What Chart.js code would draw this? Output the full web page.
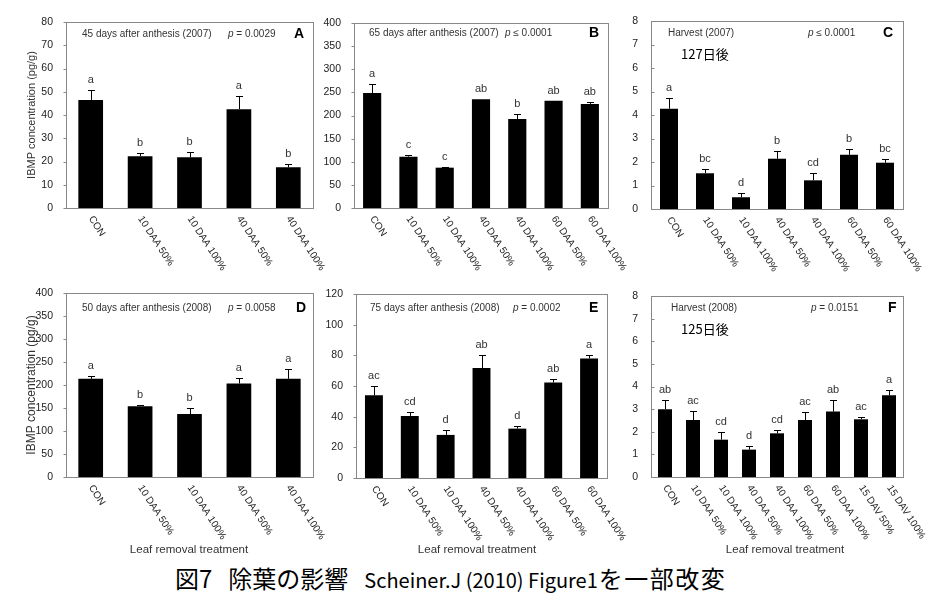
<!DOCTYPE html>
<html><head><meta charset="utf-8">
<script src="https://cdn.jsdelivr.net/npm/chart.js@4.4.1/dist/chart.umd.min.js"></script>
<style>
html,body{margin:0;padding:0;background:#fff;}
#wrap{position:relative;width:944px;height:606px;overflow:hidden;background:#fff;}
canvas{position:absolute;}
.xt{position:absolute;font:11.5px "Liberation Sans",Arial,sans-serif;color:#333;transform:translateX(-50%);white-space:nowrap;line-height:14px;}
.jp{position:absolute;font:13px "Noto Sans CJK JP",sans-serif;color:#000;white-space:nowrap;line-height:16px;}
#cap{position:absolute;left:175px;top:563px;font:24px "Noto Sans CJK JP",sans-serif;color:#000;white-space:nowrap;line-height:30px;}
#cap span{display:inline-block;vertical-align:baseline;}
#cap .lat{font-size:20px;margin-left:16px;}
#cap .g{margin-left:16px;}
#cap .t{letter-spacing:1.5px;margin-left:1px;}
</style></head>
<body><div id="wrap">
<canvas id="cA" width="330" height="290" style="left:0;top:0"></canvas>
<canvas id="cB" width="320" height="290" style="left:318px;top:0"></canvas>
<canvas id="cC" width="316" height="290" style="left:628px;top:0"></canvas>
<canvas id="cD" width="330" height="262" style="left:0;top:280px"></canvas>
<canvas id="cE" width="320" height="262" style="left:318px;top:280px"></canvas>
<canvas id="cF" width="316" height="262" style="left:628px;top:280px"></canvas>
<div class="jp" style="left:681px;top:46px">127日後</div>
<div class="jp" style="left:681px;top:321px">125日後</div>
<div class="xt" style="left:189px;top:542px">Leaf removal treatment</div>
<div class="xt" style="left:477px;top:542px">Leaf removal treatment</div>
<div class="xt" style="left:785px;top:542px">Leaf removal treatment</div>
<div id="cap"><span>図7</span><span class="g">除葉の影響</span><span class="lat">Scheiner.J (2010) Figure1</span><span class="t">を一部改変</span></div>
</div>
<script>
// ---- data ----
const cats5 = ['CON','10 DAA 50%','10 DAA 100%','40 DAA 50%','40 DAA 100%'];
const cats7 = ['CON','10 DAA 50%','10 DAA 100%','40 DAA 50%','40 DAA 100%','60 DAA 50%','60 DAA 100%'];
const cats9 = ['CON','10 DAA 50%','10 DAA 100%','40 DAA 50%','40 DAA 100%','60 DAA 50%','60 DAA 100%','15 DAV 50%','15 DAV 100%'];

const valsA = [46.5, 22.3, 21.8, 42.5, 17.5];
const errsA = [4.2, 1.4, 2.1, 5.8, 1.3];
const letsA = ['a','b','b','a','b'];

const valsB = [248.6, 111, 87.2, 235, 192.4, 232, 224.9];
const errsB = [19.4, 2.9, 1.4, 0, 10.8, 0, 3.6];
const letsB = ['a','c','c','ab','b','ab','ab'];

const valsC = [4.27, 1.52, 0.50, 2.14, 1.22, 2.31, 1.97];
const errsC = [0.45, 0.17, 0.17, 0.33, 0.30, 0.24, 0.14];
const letsC = ['a','bc','d','b','cd','b','bc'];

const valsD = [213.4, 154, 136.7, 203.3, 213.4];
const errsD = [5.8, 2.2, 12.3, 11.5, 22.4];
const letsD = ['a','b','b','a','a'];

const valsE = [54.0, 40.5, 28.1, 71.7, 32.2, 62.3, 78.0];
const errsE = [5.9, 2.4, 3.3, 8.3, 1.4, 2.4, 2.2];
const letsE = ['ac','cd','d','ab','d','ab','a'];

const valsF = [3.00, 2.52, 1.65, 1.21, 1.93, 2.52, 2.89, 2.55, 3.61];
const errsF = [0.42, 0.38, 0.34, 0.17, 0.15, 0.34, 0.50, 0.10, 0.25];
const letsF = ['ab','ac','cd','d','cd','ac','ab','ac','a'];

const titles = ['45 days after anthesis (2007)','65 days after anthesis (2007)','Harvest (2007)',
                '50 days after anthesis (2008)','75 days after anthesis (2008)','Harvest (2008)'];
const pvals = ['= 0.0029','\u2264 0.0001','\u2264 0.0001','= 0.0058','= 0.0002','= 0.0151'];
const panelIds = ['A','B','C','D','E','F'];
const yMax = [80, 400, 8, 400, 120, 8];
const yStep = [10, 50, 1, 50, 20, 1];
const yTitle = 'IBMP concentration (pg/g)';

const FONT = '"Liberation Sans", Arial, sans-serif';

// ---- drawing ----
const decor = {
  id: 'decor',
  afterDatasetsDraw(chart, args, o) {
    const ctx = chart.ctx, a = chart.chartArea, ys = chart.scales.y, xs = chart.scales.x;
    const meta = chart.getDatasetMeta(0);
    ctx.save();
    // error bars + letters
    ctx.strokeStyle = '#000'; ctx.lineWidth = 1;
    o.vals.forEach((v, i) => {
      const e = o.errs[i];
      const xc = meta.data[i].x;
      const x = Math.round(xc) + 0.5;
      const yb = ys.getPixelForValue(v);
      const yt = ys.getPixelForValue(v + e);
      if (e > 0) {
        ctx.beginPath();
        ctx.moveTo(x, yb); ctx.lineTo(x, Math.round(yt) + 0.5);
        ctx.moveTo(x - 3.5, Math.round(yt) + 0.5); ctx.lineTo(x + 3.5, Math.round(yt) + 0.5);
        ctx.stroke();
      }
      ctx.fillStyle = '#333';
      ctx.font = '11px ' + FONT;
      ctx.textAlign = 'center'; ctx.textBaseline = 'alphabetic';
      ctx.fillText(o.lets[i], xc, yt - 7);
    });
    // box
    ctx.strokeStyle = '#888';
    ctx.strokeRect(Math.round(a.left) + 0.5, Math.round(a.top) + 0.5, Math.round(a.right - a.left), Math.round(a.bottom - a.top));
    // y tick marks
    ys.ticks.forEach((t, i) => {
      const y = Math.round(ys.getPixelForTick(i)) + 0.5;
      ctx.beginPath(); ctx.moveTo(Math.round(a.left) + 0.5, y); ctx.lineTo(Math.round(a.left) + 0.5 + o.tickDir * 3, y); ctx.stroke();
    });
    // rotated x labels
    ctx.fillStyle = '#1a1a1a';
    ctx.font = '10px ' + FONT;
    ctx.textAlign = 'left'; ctx.textBaseline = 'middle';
    chart.data.labels.forEach((lab, i) => {
      const x = xs.getPixelForValue(i);
      ctx.save();
      ctx.translate(x, a.bottom + 9);
      ctx.rotate(57 * Math.PI / 180);
      ctx.fillText(lab, 0, 0);
      ctx.restore();
    });
    // panel title, p-value, letter
    const ty = a.top + o.titleDy;
    ctx.fillStyle = '#333';
    ctx.font = '10px ' + FONT;
    ctx.textBaseline = 'middle'; ctx.textAlign = 'left';
    ctx.fillText(o.title, a.left + o.titleDx, ty);
    const px = a.right - o.pDx;
    ctx.font = 'italic 10px ' + FONT;
    ctx.fillText('p', px, ty);
    const pw = ctx.measureText('p ').width;
    ctx.font = '10px ' + FONT;
    ctx.fillText(o.pval, px + pw, ty);
    ctx.fillStyle = '#000';
    ctx.font = 'bold 14px ' + FONT;
    ctx.fillText(o.panel, a.right - o.letterDx, ty);
    // y axis title
    if (o.yTitle) {
      ctx.save();
      ctx.fillStyle = '#333';
      ctx.font = o.yTitleSize + 'px ' + FONT;
      ctx.textAlign = 'center'; ctx.textBaseline = 'middle';
      ctx.translate(32 - o.cx, (a.top + a.bottom) / 2);
      ctx.rotate(-Math.PI / 2);
      ctx.fillText(o.yTitle, 0, 0);
      ctx.restore();
    }
    ctx.restore();
  }
};

function makePanel(id, cats, vals, errs, lets, k, canvasBox, area, extra) {
  const cv = document.getElementById(id);
  const yW = area.l - canvasBox.x;
  const xH = canvasBox.y + canvasBox.h - area.b;
  new Chart(cv, {
    type: 'bar',
    data: { labels: cats, datasets: [{ data: vals, backgroundColor: '#000', borderWidth: 0, barPercentage: 1, categoryPercentage: 0.5 }] },
    options: {
      responsive: false, animation: false, devicePixelRatio: 1, events: [],
      layout: { padding: { left: 0, top: area.t - canvasBox.y, right: canvasBox.x + canvasBox.w - area.r, bottom: 0 } },
      plugins: {
        legend: { display: false }, tooltip: { enabled: false },
        decor: Object.assign({ vals, errs, lets, title: titles[k], pval: pvals[k], panel: panelIds[k], cx: canvasBox.x }, extra)
      },
      scales: {
        x: { type: 'category', offset: true, ticks: { display: false }, grid: { display: false }, border: { display: false },
             afterFit(s) { s.height = xH; } },
        y: { min: 0, max: yMax[k], ticks: { stepSize: yStep[k], padding: 5, color: '#222', font: { family: FONT, size: 10.5 } },
             grid: { display: false }, border: { display: false },
             afterFit(s) { s.width = yW; } }
      }
    },
    plugins: [decor]
  });
}

makePanel('cA', cats5, valsA, errsA, letsA, 0, {x:0,y:0,w:330,h:290}, {l:66,t:22,r:313,b:208},
  {tickDir:-1, titleDx:16, titleDy:12, pDx:85, letterDx:19, yTitle: yTitle, yTitleSize: 11});
makePanel('cB', cats7, valsB, errsB, letsB, 1, {x:318,y:0,w:320,h:290}, {l:354,t:23,r:608,b:208},
  {tickDir:-1, titleDx:15, titleDy:10, pDx:103, letterDx:19});
makePanel('cC', cats7, valsC, errsC, letsC, 2, {x:628,y:0,w:316,h:290}, {l:651,t:21,r:903,b:209},
  {tickDir:1, titleDx:17, titleDy:12, pDx:95, letterDx:20});
makePanel('cD', cats5, valsD, errsD, letsD, 3, {x:0,y:280,w:330,h:262}, {l:66,t:293,r:313,b:477},
  {tickDir:-1, titleDx:16, titleDy:15, pDx:85, letterDx:17, yTitle: yTitle, yTitleSize: 12});
makePanel('cE', cats7, valsE, errsE, letsE, 4, {x:318,y:280,w:320,h:262}, {l:356,t:294,r:607,b:478},
  {tickDir:-1, titleDx:14, titleDy:14, pDx:94, letterDx:18});
makePanel('cF', cats9, valsF, errsF, letsF, 5, {x:628,y:280,w:316,h:262}, {l:651,t:296,r:903,b:477},
  {tickDir:1, titleDx:20, titleDy:12, pDx:92, letterDx:15});
</script>
</body></html>
